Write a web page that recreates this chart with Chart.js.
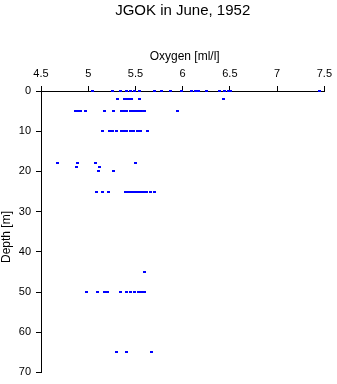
<!DOCTYPE html>
<html>
<head>
<meta charset="utf-8">
<script src="https://cdn.jsdelivr.net/npm/chart.js@4"></script>
<style>
  html, body { margin: 0; padding: 0; background: #fff; }
  #wrap { width: 337px; height: 384px; }
</style>
</head>
<body>
<div id="wrap"><canvas id="chart" width="337" height="384"></canvas></div>
<script>
// oxygen [ml/l] read at each sampled depth [m]
const depths = [0, 2, 5, 10, 18, 19, 20, 25, 45, 50, 65];
const oxygen0 = [5.05, 5.26, 5.34, 5.40, 5.45, 5.49, 5.54, 5.70, 5.78, 5.87, 5.99, 6.09, 6.14, 6.17, 6.25, 6.39, 6.44, 6.48, 6.51, 7.45];
const oxygen2 = [5.31, 5.38, 5.41, 5.43, 5.46, 5.54, 6.43];
const oxygen5 = [4.86, 4.89, 4.92, 4.97, 5.17, 5.27, 5.35, 5.38, 5.41, 5.45, 5.48, 5.51, 5.54, 5.57, 5.60, 5.94];
const oxygen10 = [5.15, 5.23, 5.26, 5.30, 5.35, 5.38, 5.41, 5.45, 5.48, 5.52, 5.55, 5.63];
const oxygen18 = [4.67, 4.89, 5.08, 5.50];
const oxygen19 = [4.88, 5.12];
const oxygen20 = [5.11, 5.27];
const oxygen25 = [5.09, 5.15, 5.21, 5.39, 5.42, 5.45, 5.48, 5.51, 5.53, 5.56, 5.59, 5.62, 5.66, 5.70];
const oxygen45 = [5.60];
const oxygen50 = [4.98, 5.10, 5.17, 5.20, 5.34, 5.41, 5.45, 5.49, 5.53, 5.56, 5.60];
const oxygen65 = [5.30, 5.41, 5.67];

const xTicks = [4.5, 5, 5.5, 6, 6.5, 7, 7.5];
const yTicks = [0, 10, 20, 30, 40, 50, 60, 70];

const byDepth = [oxygen0, oxygen2, oxygen5, oxygen10, oxygen18, oxygen19, oxygen20, oxygen25, oxygen45, oxygen50, oxygen65];
let points = [];
depths.forEach((d, i) => {
    byDepth[i].forEach(o => points.push({ x: o, y: d }));
});

// little 3x2 blue dash used as the marker
const marker = document.createElement('canvas');
marker.width = 3;
marker.height = 2;
const mctx = marker.getContext('2d');
mctx.fillStyle = '#0000ff';
mctx.fillRect(0, 0, 3, 2);

const FONT = "'Liberation Sans', Arial, sans-serif";

// titles drawn against the plot area
const titles = {
    id: 'titles',
    afterDraw(chart) {
        const ctx = chart.ctx;
        const a = chart.chartArea;
        ctx.save();
        ctx.fillStyle = '#000';
        ctx.textAlign = 'center';
        ctx.textBaseline = 'middle';
        ctx.font = '15px ' + FONT;
        ctx.fillText('JGOK in June, 1952', (a.left + a.right) / 2, 11);
        ctx.font = '12px ' + FONT;
        ctx.fillText('Oxygen [ml/l]', (a.left + a.right) / 2 + 2, 57);
        ctx.translate(7, 237);
        ctx.rotate(-Math.PI / 2);
        ctx.fillText('Depth [m]', 0, 0);
        ctx.restore();
    }
};

const axisGrid = {
    display: true,
    drawOnChartArea: false,
    drawTicks: true,
    tickLength: 5,
    color: '#000',
    lineWidth: 1
};

new Chart(document.getElementById('chart'), {
    type: 'scatter',
    data: {
        datasets: [{
            data: points,
            pointStyle: marker,
            pointRadius: 2,
            pointHoverRadius: 2,
            clip: false
        }]
    },
    options: {
        responsive: false,
        animation: false,
        layout: { padding: { top: 0, left: 0, right: 10, bottom: 9 } },
        plugins: {
            legend: { display: false },
            title: { display: false },
            tooltip: { enabled: false }
        },
        scales: {
            x: {
                type: 'linear',
                position: 'top',
                min: 4.5,
                max: 7.5,
                afterFit: (s) => { s.height = 91; },
                afterBuildTicks: (s) => { s.ticks = xTicks.map(v => ({ value: v })); },
                ticks: {
                    padding: 5,
                    color: '#000',
                    maxRotation: 0,
                    font: { family: FONT, size: 11 },
                    callback: (v) => String(v)
                },
                grid: axisGrid,
                border: { display: true, color: '#000', width: 1 }
            },
            y: {
                type: 'linear',
                reverse: true,
                min: 0,
                max: 70,
                afterFit: (s) => { s.width = 41; },
                afterBuildTicks: (s) => { s.ticks = yTicks.map(v => ({ value: v })); },
                ticks: {
                    padding: 5,
                    color: '#000',
                    font: { family: FONT, size: 11 },
                    callback: (v) => String(v)
                },
                grid: axisGrid,
                border: { display: true, color: '#000', width: 1 }
            }
        }
    },
    plugins: [titles]
});
</script>
</body>
</html>
